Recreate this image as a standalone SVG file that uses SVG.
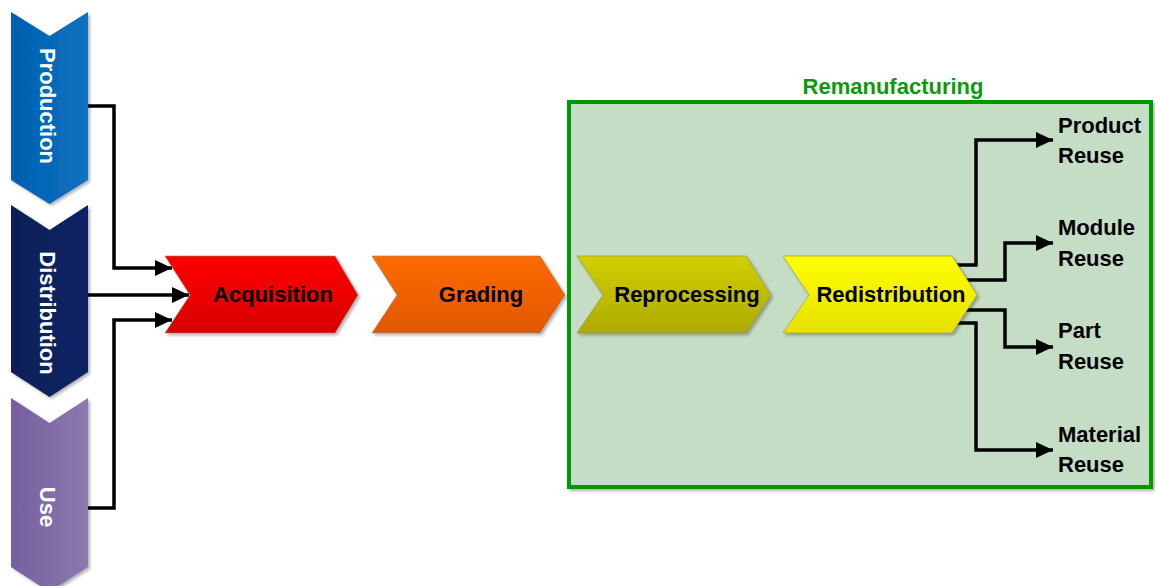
<svg xmlns="http://www.w3.org/2000/svg" width="1155" height="586" viewBox="0 0 1155 586">
  <defs>
    <linearGradient id="gProd" x1="0" y1="0" x2="1" y2="0">
      <stop offset="0" stop-color="#005fae"/>
      <stop offset="1" stop-color="#0b73c2"/>
    </linearGradient>
    <linearGradient id="gDist" x1="0" y1="0" x2="1" y2="0">
      <stop offset="0" stop-color="#0a1f55"/>
      <stop offset="1" stop-color="#0c2466"/>
    </linearGradient>
    <linearGradient id="gUse" x1="0" y1="0" x2="1" y2="0">
      <stop offset="0" stop-color="#765f9e"/>
      <stop offset="1" stop-color="#8a7aae"/>
    </linearGradient>
    <linearGradient id="gRed" x1="0" y1="0" x2="0" y2="1">
      <stop offset="0" stop-color="#ff0000"/>
      <stop offset="1" stop-color="#d80000"/>
    </linearGradient>
    <linearGradient id="gOrange" x1="0" y1="0" x2="0" y2="1">
      <stop offset="0" stop-color="#ff6a00"/>
      <stop offset="1" stop-color="#e05800"/>
    </linearGradient>
    <linearGradient id="gOlive" x1="0" y1="0" x2="0" y2="1">
      <stop offset="0" stop-color="#d0d000"/>
      <stop offset="1" stop-color="#aeaa00"/>
    </linearGradient>
    <linearGradient id="gYellow" x1="0" y1="0" x2="0" y2="1">
      <stop offset="0" stop-color="#ffff00"/>
      <stop offset="1" stop-color="#e6e000"/>
    </linearGradient>
    <filter id="shadow" x="-10%" y="-10%" width="130%" height="130%">
      <feDropShadow dx="2" dy="2" stdDeviation="1.5" flood-color="#000" flood-opacity="0.3"/>
    </filter>
    <marker id="arrow" markerUnits="userSpaceOnUse" markerWidth="17" markerHeight="16" refX="17" refY="8" orient="auto">
      <path d="M0,0 L17,8 L0,16 Z" fill="#000"/>
    </marker>
    <style>
      .chev { stroke: #8a8a6a; stroke-width: 0.6; filter: url(#shadow); }
      .side { filter: url(#shadow); }
      .lbl { font-family: "Liberation Sans", Arial, sans-serif; font-weight: bold; font-size: 22px; fill: #000; }
      .vlbl { font-family: "Liberation Sans", Arial, sans-serif; font-weight: bold; font-size: 22px; fill: #fff; }
      .title { font-family: "Liberation Sans", Arial, sans-serif; font-weight: bold; font-size: 22px; fill: #0a9a0a; }
      .conn { fill: none; stroke: #000; stroke-width: 3.5; stroke-linejoin: miter; }
    </style>
  </defs>

  <rect width="1155" height="586" fill="#fff"/>

  <!-- Remanufacturing container -->
  <g id="remanufacturing">
    <rect x="569" y="102" width="582" height="385" fill="#c5dcc5" stroke="#009a00" stroke-width="4" filter="url(#shadow)"/>
    <text class="title" x="893" y="94" text-anchor="middle">Remanufacturing</text>
  </g>

  <!-- Life-cycle phases (vertical chevrons) -->
  <g id="production">
    <path class="side" d="M11,12 L49.5,36 L88,12 L88,180 L49.5,204 L11,180 Z" fill="url(#gProd)"/>
    <text class="vlbl" transform="translate(48,106) rotate(90)" text-anchor="middle" dy="0.36em">Production</text>
  </g>
  <g id="distribution">
    <path class="side" d="M11,205 L49.5,230 L88,205 L88,372 L49.5,397 L11,372 Z" fill="url(#gDist)"/>
    <text class="vlbl" transform="translate(48,313) rotate(90)" text-anchor="middle" dy="0.36em">Distribution</text>
  </g>
  <g id="use">
    <path class="side" d="M11,398 L49.5,423 L88,398 L88,567 L49.5,592 L11,567 Z" fill="url(#gUse)"/>
    <text class="vlbl" transform="translate(48,507) rotate(90)" text-anchor="middle" dy="0.36em">Use</text>
  </g>

  <!-- Connectors -->
  <g id="connectors">
    <path class="conn" d="M88,106 H114 V268 H172" marker-end="url(#arrow)"/>
    <path class="conn" d="M88,295 H189" marker-end="url(#arrow)"/>
    <path class="conn" d="M88,508 H114 V320 H172" marker-end="url(#arrow)"/>
    <path class="conn" d="M956,265 H976 V140 H1053" marker-end="url(#arrow)"/>
    <path class="conn" d="M962,280 H1005 V243 H1053" marker-end="url(#arrow)"/>
    <path class="conn" d="M962,310 H1005 V347 H1053" marker-end="url(#arrow)"/>
    <path class="conn" d="M956,323 H976 V450 H1053" marker-end="url(#arrow)"/>
  </g>

  <!-- Process chevrons -->
  <g id="acquisition">
    <path class="chev" d="M165,256 L335,256 L358,295 L335,333 L165,333 L190,295 Z" fill="url(#gRed)"/>
    <text class="lbl" x="273" y="302" text-anchor="middle">Acquisition</text>
  </g>
  <g id="grading">
    <path class="chev" d="M372,256 L540,256 L565,295 L540,333 L372,333 L397,295 Z" fill="url(#gOrange)"/>
    <text class="lbl" x="481" y="302" text-anchor="middle">Grading</text>
  </g>
  <g id="reprocessing">
    <path class="chev" d="M577,256 L746,256 L771,295 L746,333 L577,333 L603,295 Z" fill="url(#gOlive)"/>
    <text class="lbl" x="687" y="302" text-anchor="middle">Reprocessing</text>
  </g>
  <g id="redistribution">
    <path class="chev" d="M783,256 L952,256 L977,295 L952,333 L783,333 L809,295 Z" fill="url(#gYellow)"/>
    <text class="lbl" x="891" y="302" text-anchor="middle">Redistribution</text>
  </g>

  <!-- Reuse outcomes -->
  <g id="product-reuse">
    <text class="lbl" x="1058" y="133">Product</text>
    <text class="lbl" x="1058" y="163">Reuse</text>
  </g>
  <g id="module-reuse">
    <text class="lbl" x="1058" y="235">Module</text>
    <text class="lbl" x="1058" y="266">Reuse</text>
  </g>
  <g id="part-reuse">
    <text class="lbl" x="1058" y="338">Part</text>
    <text class="lbl" x="1058" y="369">Reuse</text>
  </g>
  <g id="material-reuse">
    <text class="lbl" x="1058" y="442">Material</text>
    <text class="lbl" x="1058" y="472">Reuse</text>
  </g>
</svg>
